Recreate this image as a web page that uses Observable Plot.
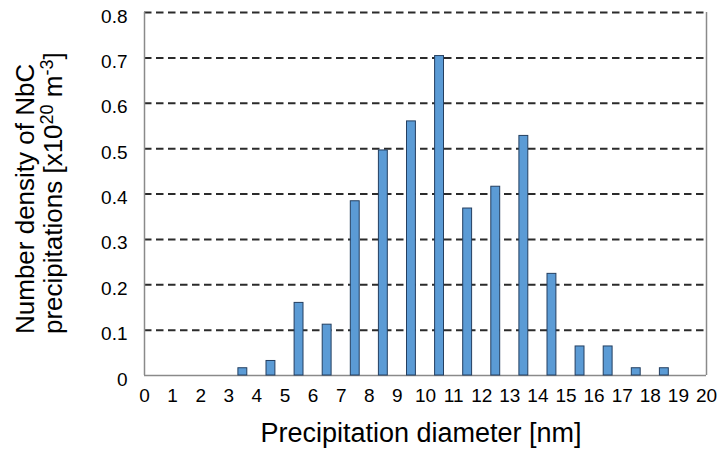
<!DOCTYPE html>
<html>
<head>
<meta charset="utf-8">
<script src="https://cdn.jsdelivr.net/npm/d3@7"></script>
<script src="https://cdn.jsdelivr.net/npm/@observablehq/plot@0.6"></script>
<style>
  html, body { margin: 0; padding: 0; background: #fff; }
  #chart svg { display: block; }
</style>
</head>
<body>
<div id="chart"></div>
<script>
// Bin lower edges (nm) and number density values (x10^20 m^-3)
const binStart = [3, 4, 5, 6, 7, 8, 9, 10, 11, 12, 13, 14, 15, 16, 17, 18];
const density  = [0.016, 0.032, 0.16, 0.112, 0.384, 0.496, 0.56, 0.704, 0.368, 0.416, 0.528, 0.224, 0.064, 0.064, 0.016, 0.016];
const xTicks = d3.range(0, 21);
const yTicks = [0, 0.1, 0.2, 0.3, 0.4, 0.5, 0.6, 0.7, 0.8];

const data = binStart.map((b, i) => ({lo: b, hi: b + 1, v: density[i]}));
const font = "'Liberation Sans', Arial, Helvetica, sans-serif";

const plot = Plot.plot({
  width: 720,
  height: 453,
  marginLeft: 144,
  marginRight: 14,
  marginTop: 12,
  marginBottom: 78,
  style: {fontFamily: font, background: "#fff", color: "#000"},
  x: {domain: [0, 20]},
  y: {domain: [0, 0.8]},
  marks: [
    Plot.ruleY(yTicks.filter(d => d > 0), {stroke: "#2b2b2b", strokeWidth: 2, strokeDasharray: "7.5,4.5"}),
    Plot.ruleX([0, 20], {stroke: "#8a8a8a", strokeWidth: 1.5}),
    Plot.ruleY([0], {stroke: "#8a8a8a", strokeWidth: 1.5}),
    Plot.rectY(data, {x1: "lo", x2: "hi", y: "v", fill: "#5b9bd5", stroke: "#243f60", strokeWidth: 1, insetLeft: 9.6, insetRight: 9.6}),
    Plot.axisX({ticks: xTicks, tickSize: 0, tickPadding: 13, fontSize: 19, label: null, tickFormat: d => String(d)}),
    Plot.axisY({ticks: yTicks, tickSize: 0, tickPadding: 17, fontSize: 19, label: null, dy: 4,
      tickFormat: d => d === 0 ? "0" : d.toFixed(1)})
  ]
});

document.getElementById("chart").appendChild(plot);

// Axis titles (with superscripts)
const svg = d3.select(plot);
svg.append("text")
  .attr("x", 421).attr("y", 442)
  .attr("text-anchor", "middle")
  .attr("font-family", font).attr("font-size", 27).attr("fill", "#000")
  .text("Precipitation diameter [nm]");

const g = svg.append("g").attr("transform", "translate(0,334) rotate(-90)")
  .attr("font-family", font).attr("font-size", 26).attr("fill", "#000");
g.append("text").attr("x", 0).attr("y", 34).attr("text-anchor", "start")
  .text("Number density of NbC");
const t2 = g.append("text").attr("x", 0).attr("y", 62).attr("text-anchor", "start");
t2.append("tspan").text("precipitations [x10");
t2.append("tspan").attr("font-size", 18).attr("dy", -9).text("20");
t2.append("tspan").attr("dy", 9).text(" m");
t2.append("tspan").attr("font-size", 18).attr("dy", -9).text("-3");
t2.append("tspan").attr("dy", 9).text("]");
</script>
</body>
</html>
